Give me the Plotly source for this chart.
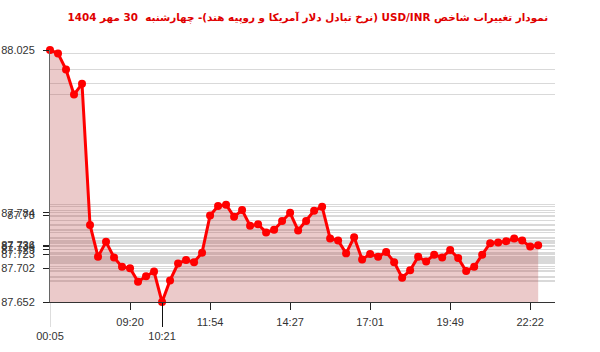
import plotly.graph_objects as go

title_text = "نمودار تغییرات شاخص USD/INR (نرخ تبادل دلار آمریکا و روپیه هند)- چهارشنبه  30 مهر 1404"

values = [88.025, 88.020, 87.996, 87.959, 87.975, 87.766, 87.719, 87.741, 87.718, 87.704,
          87.702, 87.682, 87.690, 87.697, 87.652, 87.684, 87.709, 87.714, 87.711, 87.725,
          87.780, 87.794, 87.796, 87.778, 87.788, 87.765, 87.767, 87.755, 87.759, 87.772,
          87.784, 87.758, 87.772, 87.787, 87.793, 87.746, 87.743, 87.724, 87.748, 87.715,
          87.723, 87.719, 87.726, 87.711, 87.688, 87.699, 87.719, 87.712, 87.722, 87.718,
          87.729, 87.717, 87.698, 87.704, 87.722, 87.739, 87.740, 87.742, 87.746, 87.743,
          87.734, 87.736]
idx = list(range(len(values)))

tick_idx = [10, 20, 30, 40, 50, 60]
tick_labels = ["09:20", "11:54", "14:27", "17:01", "19:49", "22:22"]
first_idx, first_label = 0, "00:05"
min_idx, min_label = 14, "10:21"

ytick_idx = [first_idx, min_idx] + tick_idx + [len(values) - 1]
ytick_vals = [values[i] for i in ytick_idx]
ytick_text = [("%.3f" % v).rstrip("0").rstrip(".") for v in ytick_vals]

fnt = dict(family="Liberation Sans, Arial", size=11, color="#333")
xr = [0, 63.1]
yr = [min(values), max(values)]

fig = go.Figure()
fig.add_trace(go.Scatter(
    x=idx, y=values, mode="lines+markers",
    line=dict(color="#ff0000", width=3),
    marker=dict(color="#ff0000", size=8),
    fill="tozeroy", fillcolor="rgba(190,80,80,0.3)",
    cliponaxis=False, hoverinfo="x+y", showlegend=False))
# invisible carriers for the secondary label axes
fig.add_trace(go.Scatter(x=idx, y=values, xaxis="x2", mode="markers",
                         marker=dict(opacity=0), hoverinfo="skip", showlegend=False))
fig.add_trace(go.Scatter(x=idx, y=values, xaxis="x3", mode="markers",
                         marker=dict(opacity=0), hoverinfo="skip", showlegend=False))

fig.update_layout(
    width=600, height=352,
    margin=dict(l=50, r=45, t=50, b=50),
    paper_bgcolor="white", plot_bgcolor="white",
    title=dict(text="<b>\u202B" + title_text + "\u202C</b>", x=0.513, xanchor="center",
               y=0.952, yanchor="middle",
               font=dict(family="DejaVu Sans", size=10.4, color="#e00000")),
    xaxis=dict(range=xr, showgrid=False, zeroline=False, showline=True, automargin=False,
               linecolor="#333", linewidth=1,
               tickmode="array", tickvals=tick_idx, ticktext=tick_labels,
               ticks="outside", ticklen=7, tickcolor="#222", tickwidth=1,
               ticklabelstandoff=3, tickfont=fnt),
    xaxis2=dict(range=xr, overlaying="x", side="bottom", showgrid=False, zeroline=False,
                showline=False, automargin=False,
                tickmode="array", tickvals=[min_idx], ticktext=[min_label],
                ticks="outside", ticklen=24, tickcolor="#111", tickwidth=1.3,
                ticklabelstandoff=0, tickfont=fnt),
    xaxis3=dict(range=xr, overlaying="x", side="bottom", showgrid=False, zeroline=False,
                showline=False, automargin=False,
                tickmode="array", tickvals=[first_idx], ticktext=[first_label],
                ticks="outside", ticklen=24, tickcolor="#ddd", tickwidth=1,
                ticklabelstandoff=0, tickfont=fnt),
    yaxis=dict(range=yr, zeroline=False, showline=True, linecolor="#666", linewidth=1,
               automargin=False,
               tickmode="array", tickvals=ytick_vals, ticktext=ytick_text,
               ticks="outside", ticklen=6, tickcolor="#222", tickwidth=1,
               ticklabelstandoff=6, tickfont=fnt,
               showgrid=True, gridcolor="#d9d9d9", gridwidth=1,
               minor=dict(tickmode="array", tickvals=values, showgrid=True,
                          gridcolor="#d9d9d9", gridwidth=1, ticks="")),
)

fig.write_html("out.html")
